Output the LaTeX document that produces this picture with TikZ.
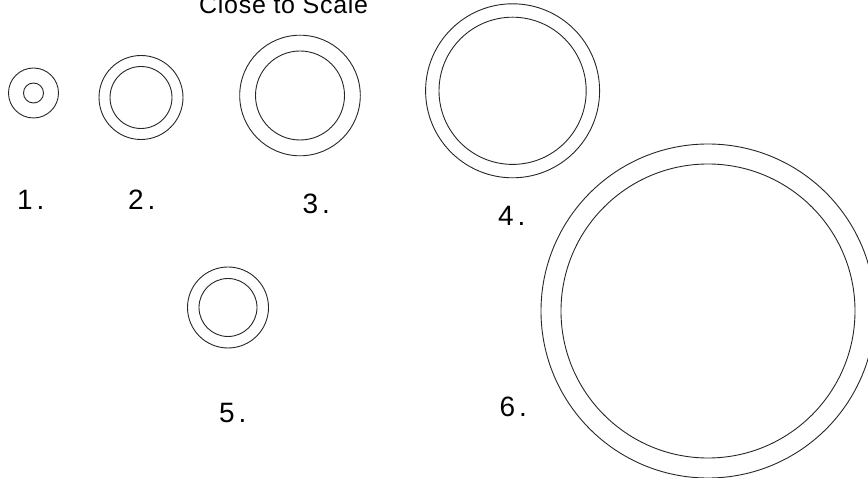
\documentclass[tikz,border=0pt]{standalone}
\usepackage{fontspec}
\setmainfont{Liberation Sans}
\usetikzlibrary{positioning}

\tikzset{
  ring/.style={draw=black!85, line width=0.9pt},
  numlabel/.style={anchor=base west, inner sep=0pt, font=\fontsize{28}{32}\selectfont\addfontfeature{LetterSpace=14}}
}

\begin{document}
\begin{tikzpicture}[x=1pt, y=-1pt]
    \useasboundingbox (0,0) rectangle (868,478);
    \node[anchor=base west, inner sep=0pt, font=\fontsize{25}{30}\selectfont\addfontfeature{LetterSpace=2.8}] (title) at (199,14) {Close to Scale};

    % rings
    \draw[ring] (33.5,93) circle[radius=25] (33.5,93) circle[radius=10];
    \draw[ring] (141,97.5) circle[radius=42] (141,97.5) circle[radius=31];
    \draw[ring] (300,95.5) circle[radius=60.3] (300,95.5) circle[radius=44.5];
    \draw[ring] (512.6,90.8) circle[radius=87] (512.6,90.8) circle[radius=73.6];
    \draw[ring] (228,307.5) circle[radius=40.5] (228,307.5) circle[radius=29];
    \draw[ring] (708,311) circle[radius=167] (708,311) circle[radius=147];

    % numbers
    \node[numlabel] (one) at (17,210) {1.};
    \node[numlabel] (two) at (128,210) {2.};
    \node[numlabel] (three) at (302.5,213.5) {3.};
    \node[numlabel] (four) at (498,226) {4.};
    \node[numlabel] (five) at (219,423) {5.};
    \node[numlabel] (six) at (499.5,416.5) {6.};
\end{tikzpicture}
\end{document}
